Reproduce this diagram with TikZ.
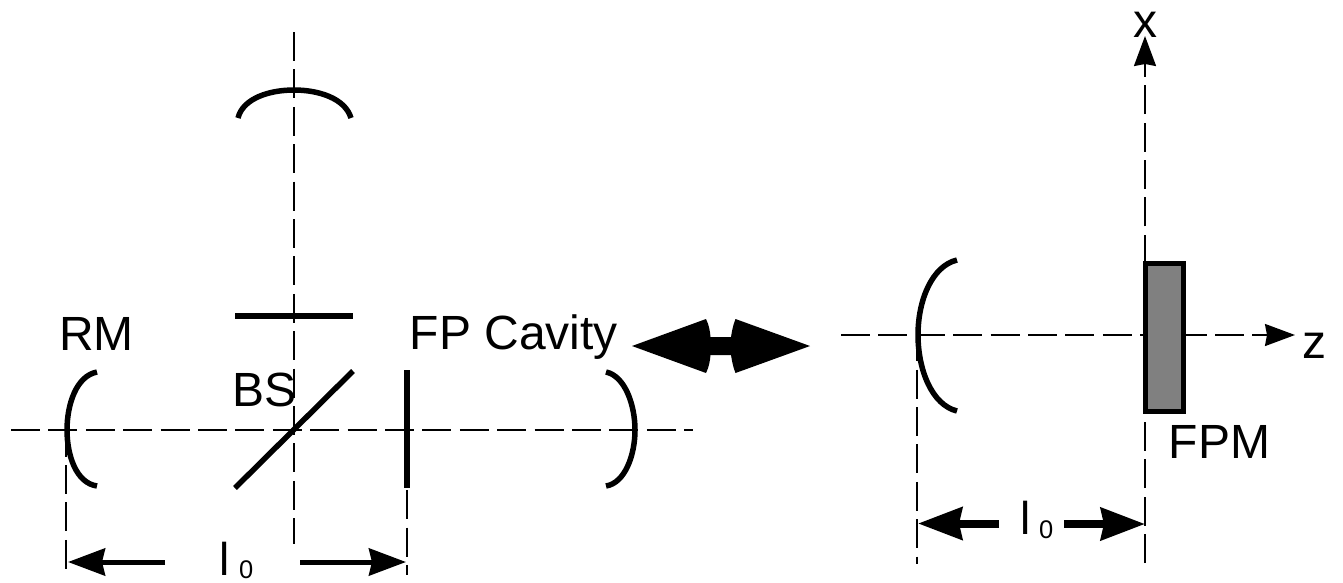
\documentclass[tikz,border=0pt]{standalone}
\usepackage{fontspec}
\setmainfont{Liberation Sans}
\usetikzlibrary{arrows.meta}
\tikzset{
  axisline/.style={line width=2pt,dash pattern=on 29pt off 8.4pt},
  mirror/.style={line width=5.5pt},
  shaft/.style={line width=5pt},
  bigtip/.style={-{Stealth[length=37pt,width=27pt,inset=3pt]}},
  fattip/.style={line width=8pt,-{Stealth[length=44pt,width=32pt,inset=3pt]}},
  axistip/.style={-{Stealth[length=30pt,width=22pt,inset=2pt]}},
  lab/.style={anchor=base west,inner sep=0pt,font=\fontsize{48}{52}\selectfont},
  ell/.style={anchor=base west,inner sep=0pt,font=\fontsize{46}{50}\selectfont},
  sublab/.style={anchor=base west,inner sep=0pt,font=\fontsize{25.5}{30}\selectfont},
}
\begin{document}
\begin{tikzpicture}[x=1pt,y=-1pt]
\useasboundingbox (0,0) rectangle (1343,582);
% named points, left
\coordinate (hL) at (11,429.7);
\coordinate (hR) at (693,429.7);
\coordinate (vT) at (294,32);
\coordinate (vB) at (294,544);
\coordinate (rmA) at (66,427.6);
\coordinate (rmB) at (66,570);
\coordinate (fpA) at (407,415.3);
\coordinate (fpB) at (407,575);
\coordinate (aL0) at (165,562);
\coordinate (aL1) at (68,562);
\coordinate (aR0) at (300,562);
\coordinate (aR1) at (406,562);
% named points, right
\coordinate (zL) at (841,335);
\coordinate (zR) at (1268,335);
\coordinate (zTip) at (1295,335);
\coordinate (xB) at (1145,563);
\coordinate (xT) at (1145,62);
\coordinate (xTip) at (1145,36);
\coordinate (cA) at (917,332.2);
\coordinate (cB) at (917,564);
\coordinate (bL0) at (999,523.5);
\coordinate (bL1) at (918,523.5);
\coordinate (bR0) at (1064,524);
\coordinate (bR1) at (1145,524);
% axes, left
\draw[axisline] (hL) -- (hR);
\draw[axisline] (vT) -- (vB);
\draw[axisline] (rmA) -- (rmB);
\draw[axisline] (fpA) -- (fpB);
% optics, left
\draw[mirror] (238,118) .. controls (243,98) and (270,90) .. (294,90) .. controls (318,90) and (345,98) .. (351,118);
\draw[mirror] (235,316) -- (353,316);
\draw[mirror] (235,488) -- (353,371);
\draw[mirror] (407,370) -- (407,488);
\draw[mirror] (97,372) .. controls (76,376) and (67,405) .. (67,430) .. controls (67,455) and (76,483) .. (97,486);
\draw[mirror] (606,372) .. controls (625,376) and (635,405) .. (635,430) .. controls (635,455) and (625,483) .. (606,486);
% length arrows, left
\draw[shaft,bigtip] (aL0) -- (aL1);
\draw[shaft,bigtip] (aR0) -- (aR1);
% double arrow
\fill (632,346) -- (706,319) .. controls (709,325) and (710,331) .. (710.5,337) -- (731,337) .. controls (732,331) and (733,325) .. (735.5,319) -- (810,346) -- (735.5,373) .. controls (733,367) and (732,361) .. (731,355) -- (710.5,355) .. controls (710,361) and (709,367) .. (706,373) -- cycle;
% axes, right
\draw[axisline] (zL) -- (zR);
\draw[axisline] (xB) -- (xT);
\draw[axisline] (cA) -- (cB);
\draw[line width=2pt,axistip] (zR) -- (zTip);
\draw[line width=2pt,axistip] (xT) -- (xTip);
% optics, right
\draw[mirror] (957,260) .. controls (932,266) and (918,300) .. (918,335) .. controls (918,370) and (932,405) .. (957,411);
\node[draw=black,line width=5pt,fill=black!50,minimum width=38pt,minimum height=148pt,inner sep=0pt,outer sep=0pt] (fpm) at (1164.5,337.5) {};
% length arrows, right
\draw[fattip] (bL0) -- (bL1);
\draw[fattip] (bR0) -- (bR1);
% labels
\node[lab] (rm) at (59,350) {RM};
\node[lab] (bs) at (232,406) {BS};
\node[lab] (fp) at (409.5,349) {FP Cavity};
\node[lab] (fpmlabel) at (1168.5,458) {FPM};
\node[lab] (xl) at (1133,37) {x};
\node[lab] (zl) at (1302,358) {z};
\node[ell] (l1) at (219,575) {l};
\node[sublab] (s1) at (239,578) {0};
\node[ell] (l2) at (1020,534) {l};
\node[sublab] (s2) at (1039,538) {0};
\end{tikzpicture}
\end{document}
